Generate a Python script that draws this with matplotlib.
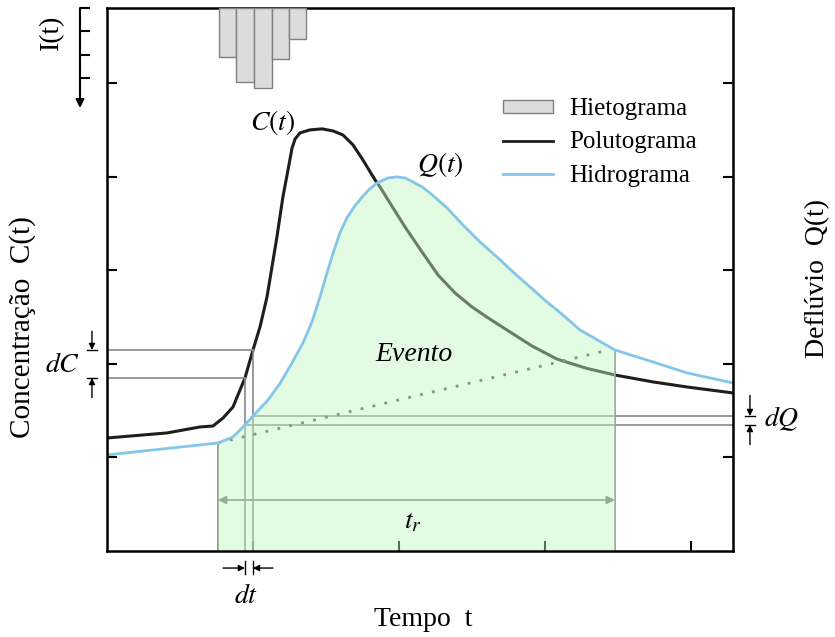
import numpy as np
import matplotlib.pyplot as plt
from matplotlib.patches import Patch
from matplotlib.lines import Line2D

plt.rcParams['font.family'] = ['Liberation Serif', 'DejaVu Serif']
plt.rcParams['mathtext.fontset'] = 'stix'

# polutograma C(t)
t_c = [0, 0.411, 0.637, 0.726, 0.795, 0.863, 0.945, 1.0, 1.048, 1.096, 1.130,
       1.164, 1.205, 1.240, 1.267, 1.288, 1.322, 1.390, 1.473, 1.548, 1.616,
       1.685, 1.753, 1.836, 1.870, 1.925, 2.041, 2.158, 2.267, 2.384, 2.5,
       2.610, 2.75, 2.911, 3.082, 3.288, 3.479, 3.740, 3.973, 4.288]
c = [1.207, 1.261, 1.325, 1.335, 1.421, 1.538, 1.848, 2.147, 2.393, 2.714, 3.034,
     3.355, 3.782, 4.071, 4.30, 4.40, 4.466, 4.498, 4.509, 4.487, 4.444,
     4.338, 4.177, 3.964, 3.889, 3.750, 3.462, 3.194, 2.949, 2.756, 2.607,
     2.49, 2.35, 2.19, 2.05, 1.95, 1.880, 1.806, 1.752, 1.688]

# hidrograma Q(t)
t_q = [0, 0.760, 0.863, 0.945, 1.0, 1.096, 1.185, 1.267, 1.342, 1.404, 1.459,
       1.507, 1.548, 1.596, 1.644, 1.699, 1.753, 1.801, 1.849, 1.925, 1.986,
       2.041, 2.096, 2.158, 2.212, 2.329, 2.438, 2.555, 2.671, 2.781, 2.897,
       3.014, 3.123, 3.240, 3.479, 3.740, 3.973, 4.288]
q = [1.026, 1.154, 1.218, 1.346, 1.442, 1.60, 1.79, 2.009, 2.222, 2.447, 2.714,
     2.970, 3.18, 3.40, 3.56, 3.69, 3.79, 3.87, 3.93, 3.985, 3.996,
     3.985, 3.942, 3.889, 3.825, 3.665, 3.483, 3.301, 3.141, 2.981, 2.821,
     2.660, 2.521, 2.361, 2.147, 2.019, 1.902, 1.795]

# hietograma I(t)
t_rain = [0.826, 0.945, 1.068, 1.188, 1.305]
i_rain = [2.10, 3.18, 3.43, 2.19, 1.33]

t0 = 0.945
dt = 0.055
t_start = 0.760
t_end = 3.479
trend_end = (3.411, 2.137)

fig = plt.figure(figsize=(8.35, 6.37), dpi=100)
ax = fig.add_axes([107/835, 86/637, 626/835, 543/637])
ax_r = ax.twinx()

ax.set_xlim(0, 4.288)
ax.set_ylim(0, 5.80)
ax.set_xticks([1, 2, 3, 4])
ax.set_yticks([1, 2, 3, 4, 5])
ax.tick_params(direction='in', length=7, width=1.5, left=True, right=True,
               bottom=True, top=False, labelleft=False, labelbottom=False,
               labelright=False)
for s in ax.spines.values():
    s.set_linewidth(1.8)
    s.set_zorder(5)

t_q = np.array(t_q)
q = np.array(q)
ax.fill_between(t_q, q, where=(t_q >= t_start) & (t_q <= t_end),
                color=(0.76, 0.96, 0.76), alpha=0.45, lw=0, zorder=3)
ax.plot(t_c, c, color='#1e1e1e', lw=2.2, zorder=2, solid_joinstyle='round')
ax.plot(t_q, q, color='#84c6e8', lw=2, zorder=4, solid_joinstyle='round')

c0, c1 = np.interp([t0, t0 + dt], t_c, c)
q0, q1 = np.interp([t0, t0 + dt], t_q, q)
qs, qe = np.interp([t_start, t_end], t_q, q)

g = '#888888'
ax.plot([0, t0], [c0, c0], color=g, lw=1.2, zorder=2)
ax.plot([0, t0 + dt], [c1, c1], color=g, lw=1.2, zorder=2)
ax.plot([t0, t0], [0, c0], color=g, lw=1.2, zorder=2)
ax.plot([t0 + dt, t0 + dt], [0, c1], color=g, lw=1.2, zorder=2)
ax.plot([t0, 4.288], [q0, q0], color=g, lw=1.2, zorder=2)
ax.plot([t0 + dt, 4.288], [q1, q1], color=g, lw=1.2, zorder=2)
ax.plot([t_start, t_start], [0, qs], color=g, lw=1.2, zorder=2)
ax.plot([t_end, t_end], [0, qe], color=g, lw=1.2, zorder=2)
ax.plot([t_start, trend_end[0]], [qs, trend_end[1]], ls=(0, (1, 3.4)), lw=2,
        color='#4a4a4a', zorder=2)
ax.annotate('', xy=(t_end, 0.545), xytext=(t_start, 0.545), zorder=2,
            arrowprops=dict(arrowstyle='<|-|>', color='#707070', lw=1.2,
                            mutation_scale=12, shrinkA=0, shrinkB=0))

arr = dict(arrowstyle='-|>', color='k', lw=1, mutation_scale=9, shrinkA=0, shrinkB=0)
# dC
ax.annotate('', xy=(-0.103, c1), xytext=(-0.103, c1 + 0.2), arrowprops=arr, annotation_clip=False)
ax.annotate('', xy=(-0.103, c0), xytext=(-0.103, c0 - 0.21), arrowprops=arr, annotation_clip=False)
ax.plot([-0.137, -0.068], [c1, c1], color='k', lw=1, clip_on=False)
ax.plot([-0.137, -0.068], [c0, c0], color='k', lw=1, clip_on=False)
# dQ
ax.annotate('', xy=(4.404, q1), xytext=(4.404, q1 + 0.22), arrowprops=arr, annotation_clip=False)
ax.annotate('', xy=(4.404, q0), xytext=(4.404, q0 - 0.21), arrowprops=arr, annotation_clip=False)
ax.plot([4.37, 4.44], [q1, q1], color='k', lw=1, clip_on=False)
ax.plot([4.37, 4.44], [q0, q0], color='k', lw=1, clip_on=False)
# dt
ax.annotate('', xy=(t0, -0.182), xytext=(t0 - 0.15, -0.182), arrowprops=arr, annotation_clip=False)
ax.annotate('', xy=(t0 + dt, -0.182), xytext=(t0 + dt + 0.137, -0.182), arrowprops=arr, annotation_clip=False)
ax.plot([t0, t0], [-0.11, -0.25], color='k', lw=1, clip_on=False)
ax.plot([t0 + dt, t0 + dt], [-0.11, -0.25], color='k', lw=1, clip_on=False)

ax.text(1.137, 4.573, '$C(t)$', fontsize=20, ha='center', va='center', zorder=6)
ax.text(2.281, 4.124, '$Q(t)$', fontsize=20, ha='center', va='center', zorder=6)
ax.text(2.103, 2.094, 'Evento', fontsize=20, style='italic', ha='center', va='center', zorder=6)
ax.text(2.096, 0.31, '$t_r$', fontsize=20, ha='center', va='center', zorder=6)
ax.text(0.952, -0.49, '$dt$', fontsize=20, ha='center', va='center', clip_on=False)
ax.text(-0.308, 1.98, '$dC$', fontsize=20, ha='center', va='center', clip_on=False)
ax.text(4.623, 1.41, '$dQ$', fontsize=20, ha='center', va='center', clip_on=False)

bars = ax_r.bar(t_rain, i_rain, width=0.119, color='#dcdcdc', edgecolor='#808080', lw=1)
ax_r.set_ylim(23.3, 0)
ax_r.set_axis_off()

handles = [Patch(facecolor='#dcdcdc', edgecolor='#808080'),
           Line2D([], [], color='#1e1e1e', lw=2),
           Line2D([], [], color='#84c6e8', lw=2)]
ax.legend(handles, ['Hietograma', 'Polutograma', 'Hidrograma'], loc='upper left',
          bbox_to_anchor=(0.633, 0.834), frameon=False, fontsize=18,
          handlelength=2.0, handleheight=0.4, handletextpad=0.65,
          labelspacing=0.45, borderpad=0, borderaxespad=0)

# I(t) scale
ax_i = fig.add_axes([80/835, 529/637, 20/835, 100/637])
ax_i.set_ylim(4.29, 0)
ax_i.set_xlim(0, 1)
ax_i.set_yticks([0, 1, 2, 3])
ax_i.set_xticks([])
ax_i.tick_params(direction='in', length=7, width=1.5, labelleft=False)
for s in ax_i.spines.values():
    s.set_visible(False)
ax_i.patch.set_visible(False)
ax_i.annotate('', xy=(0, 4.29), xytext=(0, 0),
              arrowprops=dict(arrowstyle='-|>', color='k', lw=1.5,
                              mutation_scale=12, shrinkA=0, shrinkB=0),
              annotation_clip=False)

fig.text(52/835, 1 - 32/637, 'I(t)', rotation=90, ha='center', va='center', fontsize=20)
fig.text(23/835, 1 - 327/637, 'Concentração  C(t)', rotation=90, ha='center', va='center', fontsize=21)
fig.text(818/835, 1 - 278/637, 'Deflúvio  Q(t)', rotation=90, ha='center', va='center', fontsize=20)
fig.text(423/835, 1 - 620/637, 'Tempo  t', ha='center', va='center', fontsize=20)

fig.savefig('out.png', dpi=100)
